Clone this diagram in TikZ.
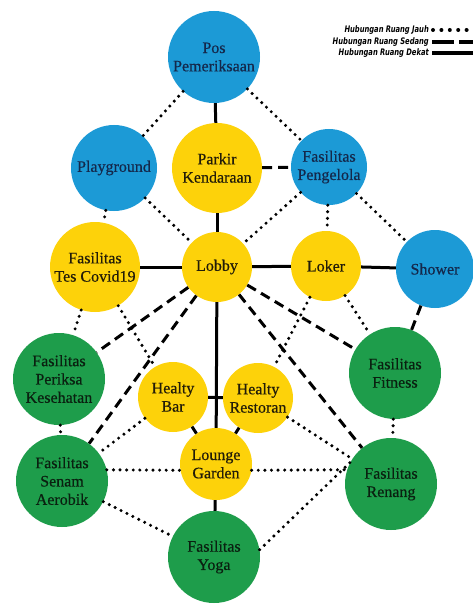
\documentclass[tikz,border=0pt]{standalone}
\usepackage{fontspec}
\setmainfont{Liberation Serif}
\newfontfamily\roomfont{Liberation Serif}[BoldFont={Liberation Serif}, BoldFeatures={FakeBold=0.5}]
\newfontfamily\legendfont{DejaVu Sans}[FakeStretch=0.75]
\definecolor{cblue}{HTML}{1C9AD6}
\definecolor{cyellow}{HTML}{FDD20A}
\definecolor{cgreen}{HTML}{1E9D4B}
\definecolor{tblue}{HTML}{14284B}
\definecolor{tyellow}{HTML}{221C08}
\definecolor{tgreen}{HTML}{0A2010}
\tikzset{
  room/.style={circle, inner sep=0pt, align=center, font=\roomfont\bfseries\fontsize{16}{18.3}\selectfont},
  bluer/.style={room, fill=cblue, text=tblue},
  yellowr/.style={room, fill=cyellow, text=tyellow},
  greenr/.style={room, fill=cgreen, text=tgreen},
  jauh/.style={line width=3.4pt, line cap=round, dash pattern=on 0pt off 6.6pt, black},
  sedang/.style={line width=3pt, dash pattern=on 10pt off 6pt, black},
  dekat/.style={line width=3pt, black},
  legtext/.style={anchor=east, inner sep=0pt, font=\legendfont\fontsize{9}{10}\selectfont\bfseries\itshape},
}
\begin{document}
\begin{tikzpicture}[x=1pt, y=-1pt]
\useasboundingbox (0,0) rectangle (473,604);
% legend
\node[legtext] (l1) at (429,30) {Hubungan Ruang Jauh};
\node[legtext] (l2) at (429,42) {Hubungan Ruang Sedang};
\node[legtext] (l3) at (429,53) {Hubungan Ruang Dekat};
\coordinate (e1) at (473,30);
\coordinate (e2) at (473,42);
\coordinate (e3) at (473,53);
\draw[line width=4pt, line cap=round, dash pattern=on 0pt off 8.4pt] ([xshift=4pt]l1.east) -- (e1);
\draw[line width=3.6pt, dash pattern=on 22pt off 5pt] ([xshift=3pt]l2.east) -- (e2);
\draw[line width=4pt] ([xshift=3pt]l3.east) -- (e3);
% nodes
\node[bluer, minimum size=92pt] (pos) at (214,57) {Pos\\Pemeriksaan};
\node[bluer, minimum size=86pt] (play) at (114,168) {Playground};
\node[yellowr, minimum size=90pt] (parkir) at (217,168) {Parkir\\Kendaraan};
\node[bluer, minimum size=76pt] (kelola) at (329,167) {Fasilitas\\Pengelola};
\node[yellowr, minimum size=90pt] (covid) at (95,267) {Fasilitas\\Tes Covid19};
\node[yellowr, minimum size=70pt] (lobby) at (217,267) {Lobby};
\node[yellowr, minimum size=70pt] (loker) at (326,266) {Loker};
\node[bluer, minimum size=78pt] (shower) at (435,269) {Shower};
\node[greenr, minimum size=92pt] (periksa) at (59,379) {Fasilitas\\Periksa\\Kesehatan};
\node[greenr, minimum size=92pt] (fitness) at (395,373) {Fasilitas\\Fitness};
\node[yellowr, minimum size=70pt] (bar) at (173,397) {Healty\\Bar};
\node[yellowr, minimum size=70pt] (resto) at (258,398) {Healty\\Restoran};
\node[yellowr, minimum size=72pt] (lounge) at (216,464) {Lounge\\Garden};
\node[greenr, minimum size=92pt] (senam) at (62,481) {Fasilitas\\Senam\\Aerobik};
\node[greenr, minimum size=92pt] (renang) at (391,484) {Fasilitas\\Renang};
\node[greenr, minimum size=92pt] (yoga) at (214,557) {Fasilitas\\Yoga};
% dekat
\draw[dekat] (pos) -- (parkir);
\draw[dekat] (parkir) -- (lobby);
\draw[dekat] (covid) -- (lobby);
\draw[dekat] (lobby) -- (loker);
\draw[dekat] (loker) -- (shower);
\draw[dekat] (lobby) -- (lounge);
\draw[dekat] (bar) -- (resto);
\draw[dekat] (bar) -- (lounge);
\draw[dekat] (resto) -- (lounge);
\draw[dekat] (lounge) -- (yoga);
% sedang
\draw[sedang] (parkir) -- (kelola);
\draw[sedang] (lobby) -- (periksa);
\draw[sedang] (lobby) -- (senam);
\draw[sedang] (lobby) -- (renang);
\draw[sedang] (lobby) -- (fitness);
\draw[sedang] (shower) -- (fitness);
% jauh
\draw[jauh] (pos) -- (play);
\draw[jauh] (pos) -- (kelola);
\draw[jauh] (play) -- (lobby);
\draw[jauh] (play) -- (covid);
\draw[jauh] (kelola) -- (lobby);
\draw[jauh] (kelola) -- (loker);
\draw[jauh] (kelola) -- (shower);
\draw[jauh] (covid) -- (periksa);
\draw[jauh] (covid) -- (bar);
\draw[jauh] (loker) -- (fitness);
\draw[jauh] (loker) -- (resto);
\draw[jauh] (periksa) -- (senam);
\draw[jauh] (bar) -- (senam);
\draw[jauh] (senam.14) -- (lounge.-170);
\draw[jauh] (lounge.-10) -- (renang.162);
\draw[jauh] (resto) -- (renang);
\draw[jauh] (fitness) -- (renang);
\draw[jauh] (senam) -- (yoga);
\draw[jauh] (yoga.9) -- (renang.152);
\end{tikzpicture}
\end{document}
